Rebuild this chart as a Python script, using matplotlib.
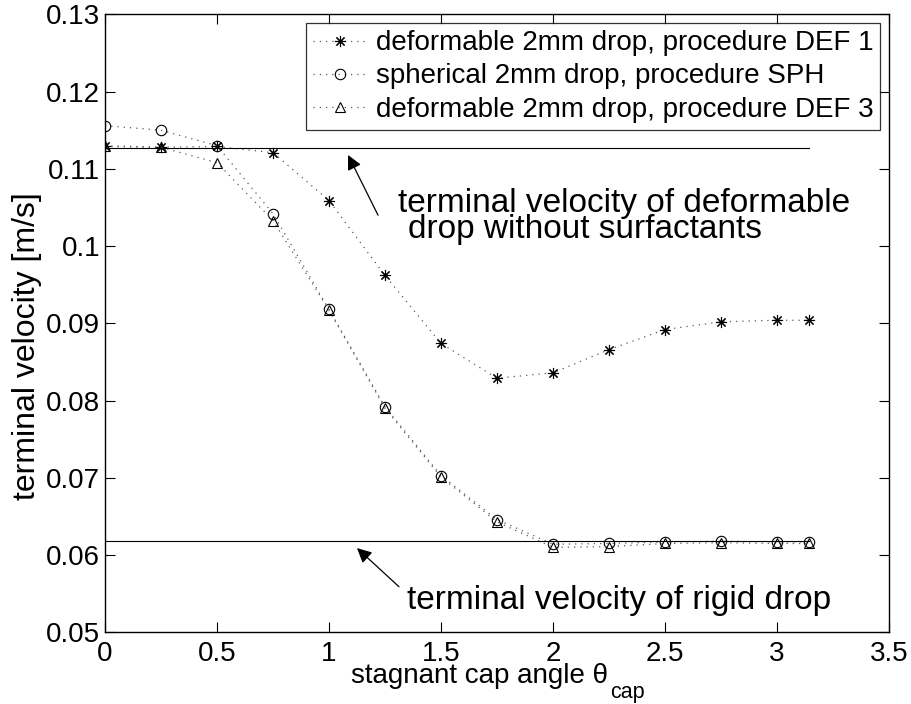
import numpy as np
import matplotlib
matplotlib.use("Agg")
import matplotlib.pyplot as plt

plt.rcParams['font.family'] = ['Liberation Sans', 'DejaVu Sans']

# stagnant cap angle values (last one is pi)
theta = [0, 0.25, 0.5, 0.75, 1.0, 1.25, 1.5, 1.75, 2.0, 2.25, 2.5, 2.75, 3.0, np.pi]

def1 = [0.1129, 0.1128, 0.1129, 0.1121, 0.1059, 0.0962, 0.0874, 0.0829,
        0.0836, 0.0866, 0.0892, 0.0902, 0.0904, 0.0904]
sph = [0.1156, 0.1150, 0.1130, 0.1042, 0.0918, 0.0792, 0.0703, 0.0646,
       0.0614, 0.0615, 0.0617, 0.0618, 0.0617, 0.0617]
def3 = [0.1130, 0.1128, 0.1108, 0.1033, 0.0917, 0.0790, 0.0701, 0.0643,
        0.0610, 0.0611, 0.0615, 0.0616, 0.0615, 0.0615]

labels = ["deformable 2mm drop, procedure DEF 1",
          "spherical 2mm drop, procedure SPH",
          "deformable 2mm drop, procedure DEF 3"]

v_deformable_clean = 0.1127
v_rigid = 0.06185

xticks = [0, 0.5, 1, 1.5, 2, 2.5, 3, 3.5]
yticks = [0.05, 0.06, 0.07, 0.08, 0.09, 0.1, 0.11, 0.12, 0.13]

W, H = 911, 704
fig = plt.figure(figsize=(W / 100, H / 100), dpi=100)
ax = fig.add_axes([105 / W, 1 - 632.3 / H, 784 / W, 617.9 / H])

dot = (0, (1, 4))
line_kw = dict(color='0.35', linestyle=dot, linewidth=0.9, markeredgecolor='black',
               markerfacecolor='none', markeredgewidth=0.8)
ax.plot(theta, def1, marker=(8, 2, 0), markersize=8, label=labels[0], **line_kw)
ax.plot(theta, sph, marker='o', markersize=7.5, label=labels[1], **line_kw)
ax.plot(theta, def3, marker='^', markersize=7.5, label=labels[2], **line_kw)

# reference velocities
ax.plot([0, np.pi], [v_deformable_clean] * 2, color='black', linewidth=0.8)
ax.plot([0, np.pi], [v_rigid] * 2, color='black', linewidth=0.8)

arrow_kw = dict(arrowstyle='-|>', color='black', lw=0.9, mutation_scale=22,
                shrinkA=0, shrinkB=0)
ax.annotate("", xy=(1.085, 0.1118), xytext=(1.219, 0.1040), arrowprops=arrow_kw)
ax.text(1.308, 0.10444, "terminal velocity of deformable", fontsize=24,
        ha='left', va='baseline')
ax.text(1.353, 0.10110, "drop without surfactants", fontsize=24,
        ha='left', va='baseline')

ax.annotate("", xy=(1.125, 0.0609), xytext=(1.3125, 0.0559), arrowprops=arrow_kw)
ax.text(1.348, 0.05301, "terminal velocity of rigid drop", fontsize=24,
        ha='left', va='baseline')

ax.set_xlim(0, 3.5)
ax.set_ylim(0.05, 0.13)
ax.set_xticks(xticks)
ax.set_xticklabels([f"{t:g}" for t in xticks])
ax.set_yticks(yticks)
ax.set_yticklabels([f"{t:g}" for t in yticks])
ax.tick_params(direction='in', length=7, width=0.8, labelsize=20, top=True,
               right=True)
ax.tick_params(axis='x', pad=6)
ax.tick_params(axis='y', pad=3.5)
for s in ax.spines.values():
    s.set_linewidth(1.0)

# axis labels
fig.text(351 / W, 1 - 683 / H, "stagnant cap angle θ", fontsize=20,
         ha='left', va='baseline')
fig.text(610 / W, 1 - 698 / H, "cap", fontsize=15.5, ha='left', va='baseline')
ax.set_ylabel("terminal velocity [m/s]", fontsize=23)
ax.yaxis.set_label_coords(-0.080, 0.463)

leg = ax.legend(loc='upper right', fontsize=20, frameon=True, fancybox=False,
                edgecolor='black', borderpad=0.25, labelspacing=0.26,
                handlelength=1.95, handletextpad=0.3, borderaxespad=0.32)
leg.get_frame().set_linewidth(0.9)

fig.savefig("out.png", dpi=100)
